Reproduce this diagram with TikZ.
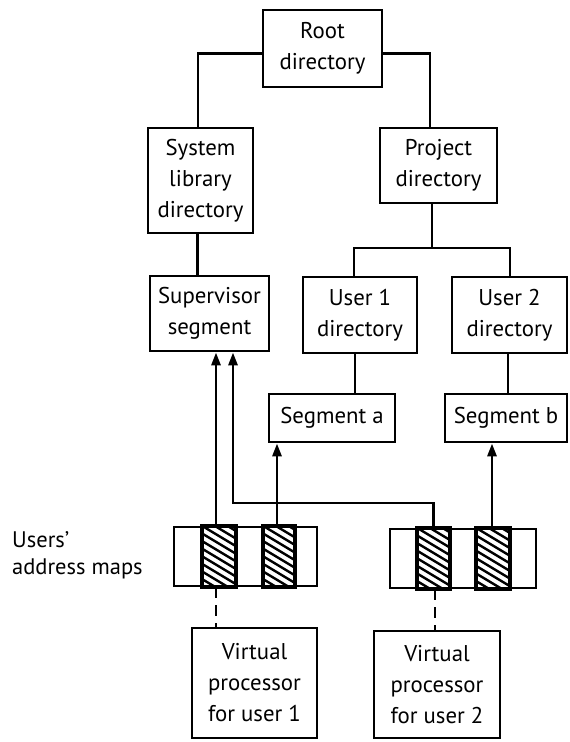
\documentclass[tikz,border=0pt]{standalone}
\usepackage{fontspec}
\setmainfont{PT Sans}
\usetikzlibrary{arrows.meta}
\begin{document}
\begin{tikzpicture}[x=1pt,y=-1pt,
  box/.style={draw,line width=2.8pt,align=center,inner sep=0pt,
    font=\fontsize{22.8}{31}\selectfont},
  cell/.style={draw,line width=2.8pt,inner sep=0pt,minimum height=59pt},
  arr/.style={-{Triangle[length=13pt,width=9pt]}},
  link/.style={line width=2.8pt},
  dashlink/.style={line width=2.8pt,dash pattern=on 11pt off 7pt},
  lbl/.style={align=left,inner sep=0pt,anchor=north west,font=\fontsize{22.5}{27}\selectfont}
]
\useasboundingbox (0,0) rectangle (570,742);
% directory boxes
\node[box,minimum width=119pt,minimum height=77pt] (root) at (322.5,48.5) {Root\\directory};
\node[box,minimum width=105pt,minimum height=105pt] (sys) at (200.5,180.5) {System\\library\\directory};
\node[box,minimum width=117pt,minimum height=75pt] (proj) at (438.5,165.5) {Project\\directory};
\node[box,minimum width=119pt,minimum height=75pt] (sup) at (209.5,313.5) {Supervisor\\segment};
\node[box,minimum width=114pt,minimum height=76pt] (u1) at (360,315) {User 1\\directory};
\node[box,minimum width=115pt,minimum height=76pt] (u2) at (509.5,315) {User 2\\directory};
\node[box,minimum width=126pt,minimum height=48pt] (sega) at (332,418) {Segment a};
\node[box,minimum width=122pt,minimum height=48pt] (segb) at (506,418) {Segment b};
\node[box,minimum width=125pt,minimum height=110pt] (vp1) at (254.5,683) {Virtual\\processor\\for user 1};
\node[box,minimum width=126pt,minimum height=107pt] (vp2) at (437,684.5) {Virtual\\processor\\for user 2};
% address maps
\node[cell,minimum width=143pt] (map1) at (245.5,556.5) {};
\node[cell,minimum width=146pt] (map2) at (463,558.5) {};
\node[cell,minimum width=32pt] (m1a) at (219,556.5) {};
\node[cell,minimum width=30pt] (m1b) at (279,556.5) {};
\node[cell,minimum width=31pt] (m2a) at (433.5,558.5) {};
\node[cell,minimum width=32pt] (m2b) at (493,558.5) {};
\foreach \c in {m1a,m1b,m2a,m2b}{
  \begin{scope}
    \clip (\c.south west) rectangle (\c.north east);
    \foreach \k in {-8,...,10}{
      \draw[line width=2.4pt] ([yshift=-\k*7.6pt]\c.north west) -- ++(40,24);
    }
  \end{scope}
  \draw[line width=2.8pt] (\c.south west) rectangle (\c.north east);
}
\node[lbl] (label) at (12,531) {Users'\\address maps};
% tree connectors
\draw[link] ([yshift=-5pt]root.west) -| ([xshift=-2.5pt]sys.north);
\draw[link] ([yshift=-5pt]root.east) -| ([xshift=-8.5pt]proj.north);
\draw[link] ([xshift=-3pt]sys.south) -- ([xshift=-3pt]sys.south |- sup.north);
\coordinate (br) at (432,248);
\draw[link] ([xshift=-6.5pt]proj.south) -- (br);
\draw[link] ([xshift=-6pt]u1.north) |- (br) -| ([xshift=0.5pt]u2.north);
\draw[link] ([xshift=-5pt]u1.south) -- ([xshift=-5pt]u1.south |- sega.north);
\draw[link] ([xshift=-1.5pt]u2.south) -- ([xshift=-1.5pt]u2.south |- segb.north);
% map pointers
\draw[link,arr] ([xshift=-3pt]m1a.north) -- ([xshift=-3pt]m1a.north |- sup.south);
\coordinate (kink) at (233,503);
\draw[link,arr] (m2a.north) |- (kink) -- (kink |- sup.south);
\draw[link,arr] ([xshift=-2pt]m1b.north) -- ([xshift=-2pt]m1b.north |- sega.south);
\draw[link,arr] ([xshift=-1pt]m2b.north) -- ([xshift=-1pt]m2b.north |- segb.south);
% dashed links to virtual processors
\draw[dashlink] ([xshift=-3pt]m1a.south) -- ([xshift=-3pt]m1a.south |- vp1.north);
\draw[dashlink] ([xshift=1.5pt]m2a.south) -- ([xshift=1.5pt]m2a.south |- vp2.north);
\end{tikzpicture}
\end{document}
